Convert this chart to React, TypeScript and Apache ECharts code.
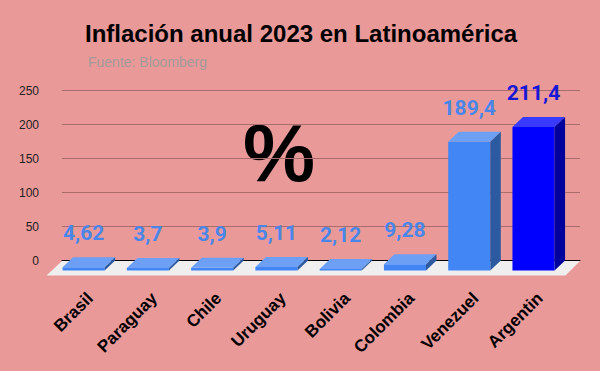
import React, { useEffect, useRef } from "react";
import * as echarts from "echarts";

const categories = ["Brasil", "Paraguay", "Chile", "Uruguay", "Bolivia", "Colombia", "Venezuel", "Argentin"];
const inflation = [4.62, 3.7, 3.9, 5.11, 2.12, 9.28, 189.4, 211.4];
const highlighted = ["Argentin"];
const yMin = 0;
const yMax = 250;
const yInterval = 50;

const BG = "#ea9999";
const normalColors = { front: "#4285f4", top: "#6d9ff5", side: "#2c5aa0", label: "#4a86e8" };
const hiColors = { front: "#0000ff", top: "#3a3aff", side: "#00009c", label: "#1717d6" };

export default function App() {
  const ref = useRef<HTMLDivElement>(null);
  useEffect(() => {
    if (!ref.current) return;
    const chart = echarts.init(ref.current, null, { renderer: "svg" });
    const xMax = categories.length - 0.44;
    const data = inflation.map((v, i) => [i, v]);
    const option: any = {
      animation: false,
      backgroundColor: BG,
      title: [
        {
          text: "Inflación anual 2023 en Latinoamérica",
          left: 85,
          top: 21,
          padding: 0,
          textStyle: { fontFamily: "Liberation Sans, Arial", fontWeight: "bold", fontSize: 24, color: "#000" },
        },
        {
          text: "Fuente: Bloomberg",
          left: 88,
          top: 55,
          padding: 0,
          textStyle: { fontFamily: "Liberation Sans, Arial", fontWeight: "normal", fontSize: 14, color: "#a49a9a" },
        },
      ],
      grid: { left: 62, right: 20, top: 90.7, bottom: 110.5 },
      xAxis: {
        type: "value",
        min: -0.5,
        max: xMax,
        z: 1,
        axisLine: { show: true, lineStyle: { color: "#000", width: 1 } },
        axisTick: { show: false },
        axisLabel: { show: false },
        splitLine: { show: false },
      },
      yAxis: {
        type: "value",
        min: yMin,
        max: yMax,
        interval: yInterval,
        axisLine: { show: false },
        axisTick: { show: false },
        axisLabel: { margin: 23, fontFamily: "Liberation Sans, Arial", fontSize: 12, color: "#222" },
        splitLine: { lineStyle: { color: "#a86c6c", width: 1 } },
      },
      graphic: [
        {
          type: "text",
          x: 279,
          y: 153,
          style: {
            text: "%",
            font: "bold 81px 'Liberation Sans', Arial",
            fill: "#000",
            align: "center",
            verticalAlign: "middle",
          },
        },
      ],
      series: [
        {
          type: "custom",
          data,
          encode: { x: 0, y: 1 },
          renderItem: (params: any, api: any) => {
            const i = api.value(0);
            const v = api.value(1);
            const base = api.coord([i, 0]);
            const top = api.coord([i, v]);
            const band = api.size([1, 0])[0];
            const w = band * 0.655;
            const dx = 10.5;
            const dy = 10;
            const xl = base[0] - w / 2;
            const xr = base[0] + w / 2;
            const fxl = xl - dx;
            const fxr = xr - dx;
            const fyb = base[1] + dy;
            const fyt = top[1] + dy;
            const c = highlighted.includes(categories[i]) ? hiColors : normalColors;
            const children: any[] = [];
            if (params.dataIndex === 0) {
              const L = api.coord([-0.5, 0]);
              const R = api.coord([xMax, 0]);
              children.push({
                type: "polygon",
                shape: {
                  points: [
                    [L[0], L[1] + 0.5],
                    [R[0], R[1] + 0.5],
                    [R[0] - 14.5, R[1] + 15],
                    [L[0] - 15.5, L[1] + 15],
                  ],
                },
                style: { fill: "#efefef" },
              });
            }
            children.push({
              type: "rect",
              shape: { x: fxl, y: fyt, width: w, height: fyb - fyt },
              style: { fill: c.front },
            });
            children.push({
              type: "polygon",
              shape: { points: [[fxl, fyt], [fxr, fyt], [xr, top[1]], [xl, top[1]]] },
              style: { fill: c.top },
            });
            children.push({
              type: "polygon",
              shape: { points: [[fxr, fyt], [xr, top[1]], [xr, base[1]], [fxr, fyb]] },
              style: { fill: c.side },
            });
            children.push({
              type: "text",
              x: base[0] - dx,
              y: top[1] - 24,
              style: {
                text: String(v).replace(".", ","),
                font: "bold 21px Roboto, 'Liberation Sans', Arial",
                fill: c.label,
                align: "center",
                verticalAlign: "middle",
              },
            });
            children.push({
              type: "text",
              x: base[0] - 4,
              y: base[1] + 35,
              rotation: Math.PI / 4,
              style: {
                text: categories[i],
                font: "bold 17px 'Liberation Sans', Arial",
                fill: "#000",
                align: "right",
                verticalAlign: "middle",
              },
            });
            return { type: "group", children };
          },
        },
      ],
    };
    chart.setOption(option);
    return () => chart.dispose();
  }, []);
  return <div ref={ref} style={{ position: "fixed", left: 0, top: 0, width: 600, height: 371 }} />;
}
